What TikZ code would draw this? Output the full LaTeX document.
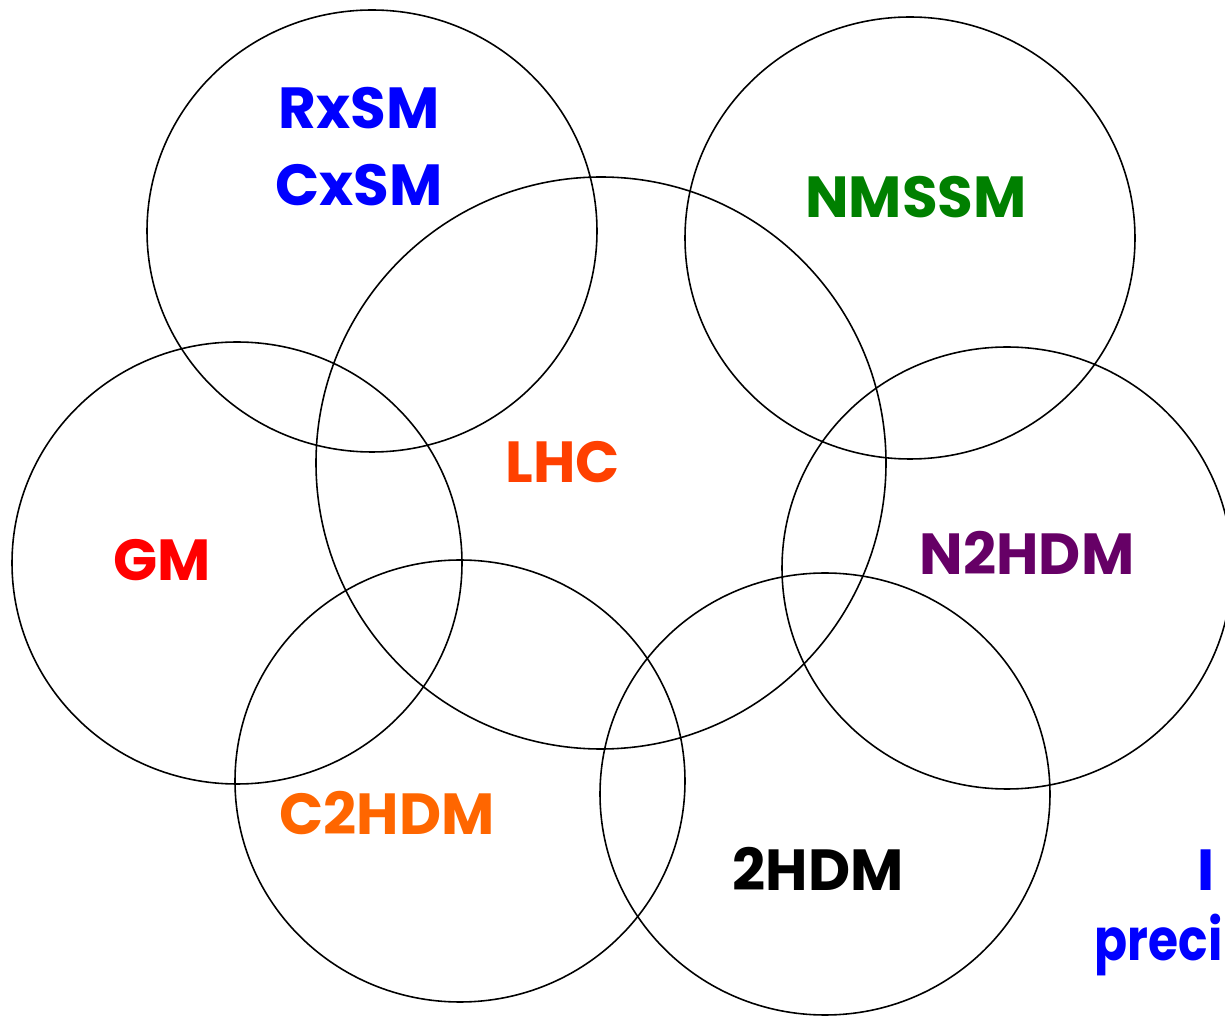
\documentclass[tikz,border=0pt]{standalone}
\usepackage{fontspec}
\usepackage{graphicx}
\setmainfont{Poppins}[BoldFont={* Bold}]
\definecolor{cblue}{RGB}{0,0,255}
\definecolor{cgreen}{RGB}{0,128,0}
\definecolor{clhc}{RGB}{255,64,0}
\definecolor{cred}{RGB}{255,0,0}
\definecolor{cpurple}{RGB}{102,0,102}
\definecolor{corange}{RGB}{255,102,0}
\begin{document}
\begin{tikzpicture}[x=0.02cm,y=-0.02cm,
  ring/.style={draw=black,line width=0.9pt},
  lbl/.style={font=\bfseries\fontsize{33}{40}\selectfont,inner sep=0pt}]
\useasboundingbox (0,0) rectangle (1225,1016);
\begin{scope}
\clip (0,0) rectangle (1225,1016);
% model circles
\draw[ring] (372,231) ellipse [x radius=225,y radius=221];
\draw[ring] (910,238) ellipse [x radius=225,y radius=221];
\draw[ring] (237,563) ellipse [x radius=225,y radius=221];
\draw[ring] (1007,568) ellipse [x radius=225,y radius=221];
\draw[ring] (460,781) ellipse [x radius=225,y radius=221];
\draw[ring] (825,794) ellipse [x radius=225,y radius=221];
% central LHC circle
\draw[ring] (601,463) ellipse [x radius=285,y radius=286];
% labels
\node[lbl,text=cblue] (rxsm) at (359,108) {RxSM};
\node[lbl,text=cblue] (cxsm) at (359,185) {CxSM};
\node[lbl,text=cgreen] (nmssm) at (916,197) {NMSSM};
\node[lbl,text=clhc] (lhc) at (563,462) {LHC};
\node[lbl,text=cred] (gm) at (162,560) {GM};
\node[lbl,text=cpurple] (n2hdm) at (1027,553) {N2HDM};
\node[lbl,text=corange] (c2hdm) at (387,813) {C2HDM};
\node[lbl,text=black] (thdm) at (818,869) {2HDM};
\node[lbl,text=cblue,anchor=west] (ilab) at (1197,870) {I};
\node[lbl,text=cblue,anchor=east] (prec) at (1223,945) {\scalebox{0.84}[1]{preci}};
\end{scope}
\end{tikzpicture}
\end{document}
